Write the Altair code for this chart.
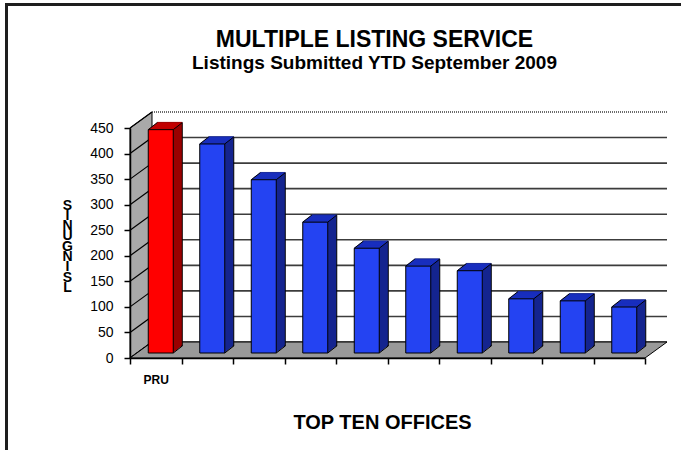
import altair as alt
import pandas as pd

# ---------------- data ----------------
offices = ["PRU", "Office 2", "Office 3", "Office 4", "Office 5",
           "Office 6", "Office 7", "Office 8", "Office 9", "Office 10"]
listings = [437, 409, 339, 256, 205, 170, 161, 106, 102, 90]
groups = ["PRU"] + ["Other"] * 9
y_ticks = [0, 50, 100, 150, 200, 250, 300, 350, 400, 450]
y_title_letters = ["S", "I", "N", "U", "G", "N", "I", "S", "L"]

# ---------------- layout / style ----------------
W, H = 515, 230          # front plot area
DX, DY = 22, -16         # depth of the 3D walls
BAR_W = 25
BX, BY = 5, -5           # bar front offset inside the box
BDX, BDY = 9, -7         # bar depth
N = 9                    # sweep steps for bar depth
FONT = "Liberation Sans"

FRONT = {"PRU": "#ff0000", "Other": "#2443f2"}
SIDE = {"PRU": "#9a0000", "Other": "#15258f"}
TOP = {"PRU": "#c80000", "Other": "#1a31c4"}

bars = pd.DataFrame({"office": offices, "listings": listings, "group": groups})
ticks = pd.DataFrame({"tick": y_ticks})

xscale = alt.Scale(paddingInner=0, paddingOuter=0)
yscale = alt.Scale(domain=[0, 450], nice=False, zero=True)

x_axis = alt.Axis(
    title="TOP TEN OFFICES", labelExpr="datum.label == 'PRU' ? 'PRU' : ''",
    labelAngle=0, labelFont=FONT, labelFontSize=12, labelFontWeight="bold",
    labelColor="black", labelPadding=10, tickBand="extent", tickSize=6,
    tickColor="black", tickWidth=1.5, domainColor="black", domainWidth=1.5,
    titleFont=FONT, titleFontSize=20, titleFontWeight="bold", titleColor="black",
    titleX=252, titleY=70, titleAlign="center", titleBaseline="alphabetic",
    grid=False, zindex=1,
)
y_axis = alt.Axis(
    values=y_ticks, title=y_title_letters, titleAngle=0, titleAlign="center",
    titleBaseline="top", titleX=-63, titleY=70, titleLineHeight=10.3,
    titleFont=FONT, titleFontSize=14, titleFontWeight="bold", titleColor="black",
    labelFont=FONT, labelFontSize=14, labelColor="black", labelPadding=11,
    tickSize=6, tickColor="black", tickWidth=1.5, domainColor="black",
    domainWidth=1.5, grid=False, zindex=1,
)


def X():
    return alt.X("office:N", sort=offices, scale=xscale, axis=x_axis)


def Y(field="listings:Q"):
    return alt.Y(field, scale=yscale, axis=y_axis)


def colour(pal):
    return alt.condition(alt.datum.group == "PRU", alt.value(pal["PRU"]), alt.value(pal["Other"]))


# ---------------- decorations (3D box) ----------------
frame = alt.Chart(ticks).mark_rect(fillOpacity=0, stroke="#1e1e1e", strokeWidth=3).encode(
    x=alt.value(6.5 - 130), x2=alt.value(700 - 130),
    y=alt.value(4.5 - 128), y2=alt.value(470 - 128),
)

side_geo = pd.DataFrame({"px": [0, DX], "top": [0, DY], "bot": [H, H + DY]})
side_wall = alt.Chart(side_geo).mark_area(color="#a9a9a9", stroke="black", strokeWidth=1).encode(
    x=alt.X("px:Q", scale=None), y=alt.Y("top:Q", scale=None), y2="bot:Q"
)

floor_geo = pd.DataFrame({"py": [H + DY, H], "xl": [DX, 0], "xr": [W + DX, W]})
floor = alt.Chart(floor_geo).mark_area(orient="horizontal", color="#999999", stroke="black", strokeWidth=1).encode(
    y=alt.Y("py:Q", scale=None), x=alt.X("xl:Q", scale=None), x2="xr:Q"
)

grid = alt.Chart(ticks).transform_filter(alt.datum.tick < 450).mark_rule(
    color="#3c3c3c", strokeWidth=1.6, yOffset=DY, y2Offset=DY
).encode(
    y=Y("tick:Q"), y2="tick:Q",
    x=alt.value(DX), x2=alt.value(W + DX),
)
grid_top = alt.Chart(ticks).transform_filter(alt.datum.tick == 450).mark_rule(
    color="#3c3c3c", strokeWidth=1.6, strokeDash=[1, 1], yOffset=DY, y2Offset=DY
).encode(
    y=Y("tick:Q"), y2="tick:Q",
    x=alt.value(DX), x2=alt.value(W + DX),
)
side_ticks = alt.Chart(ticks).mark_rule(color="black", strokeWidth=1.2, y2Offset=DY).encode(
    y=Y("tick:Q"), y2="tick:Q",
    x=alt.value(0), x2=alt.value(DX),
)

# ---------------- bars ----------------
layers = [frame, side_wall, grid, grid_top, side_ticks, floor]

base = alt.Chart(bars)
for k in range(N, 0, -1):
    ox = BX + BDX * k / N
    oy = BY + BDY * k / N
    kw = dict(width=BAR_W, xOffset=ox, x2Offset=ox, yOffset=oy, y2Offset=oy)
    if k == N:
        kw.update(stroke="black", strokeWidth=1)
    layers.append(base.mark_bar(**kw).encode(x=X(), y=Y(), color=colour(SIDE)))

for k in range(N, -1, -1):
    ox = BX + BDX * k / N
    oy = BY + BDY * k / N
    layers.append(base.mark_tick(orient="horizontal", size=BAR_W, thickness=1.6,
                                 xOffset=ox, yOffset=oy).encode(
        x=X(), y=Y(), color=colour(TOP)))

front = base.mark_bar(width=BAR_W, xOffset=BX, x2Offset=BX, yOffset=BY, y2Offset=BY,
                      stroke="black", strokeWidth=1).encode(
    x=X(), y=Y(), color=colour(FRONT))
layers.append(front)

# outline edges of the 3D bars
for dx0, use_zero in [(-BAR_W / 2, False), (BAR_W / 2, False), (BAR_W / 2, True)]:
    enc = dict(x=X(), x2="office:N")
    if use_zero:
        enc.update(y=alt.YDatum(0, scale=yscale, axis=y_axis), y2=alt.datum(0))
    else:
        enc.update(y=Y(), y2="listings:Q")
    layers.append(base.mark_rule(
        color="black", strokeWidth=1,
        xOffset=dx0 + BX, x2Offset=dx0 + BX + BDX,
        yOffset=BY, y2Offset=BY + BDY,
    ).encode(**enc))

chart = alt.layer(*layers).properties(
    width=W, height=H,
    background="white",
    title=alt.TitleParams(
        text="MULTIPLE LISTING SERVICE",
        subtitle="Listings Submitted YTD September 2009",
        anchor="middle", frame="group", dx=-13, offset=-70,
        font=FONT, fontSize=23, fontWeight="bold", color="black",
        subtitleFont=FONT, subtitleFontSize=19, subtitleFontWeight="bold",
        subtitleColor="black", subtitlePadding=2,
    ),
    autosize=alt.AutoSizeParams(type="none"),
    padding={"left": 130, "top": 128, "right": 36, "bottom": 92},
).configure_view(stroke=None)

chart.save("out.html", embed_options={"renderer": "svg", "actions": False})
